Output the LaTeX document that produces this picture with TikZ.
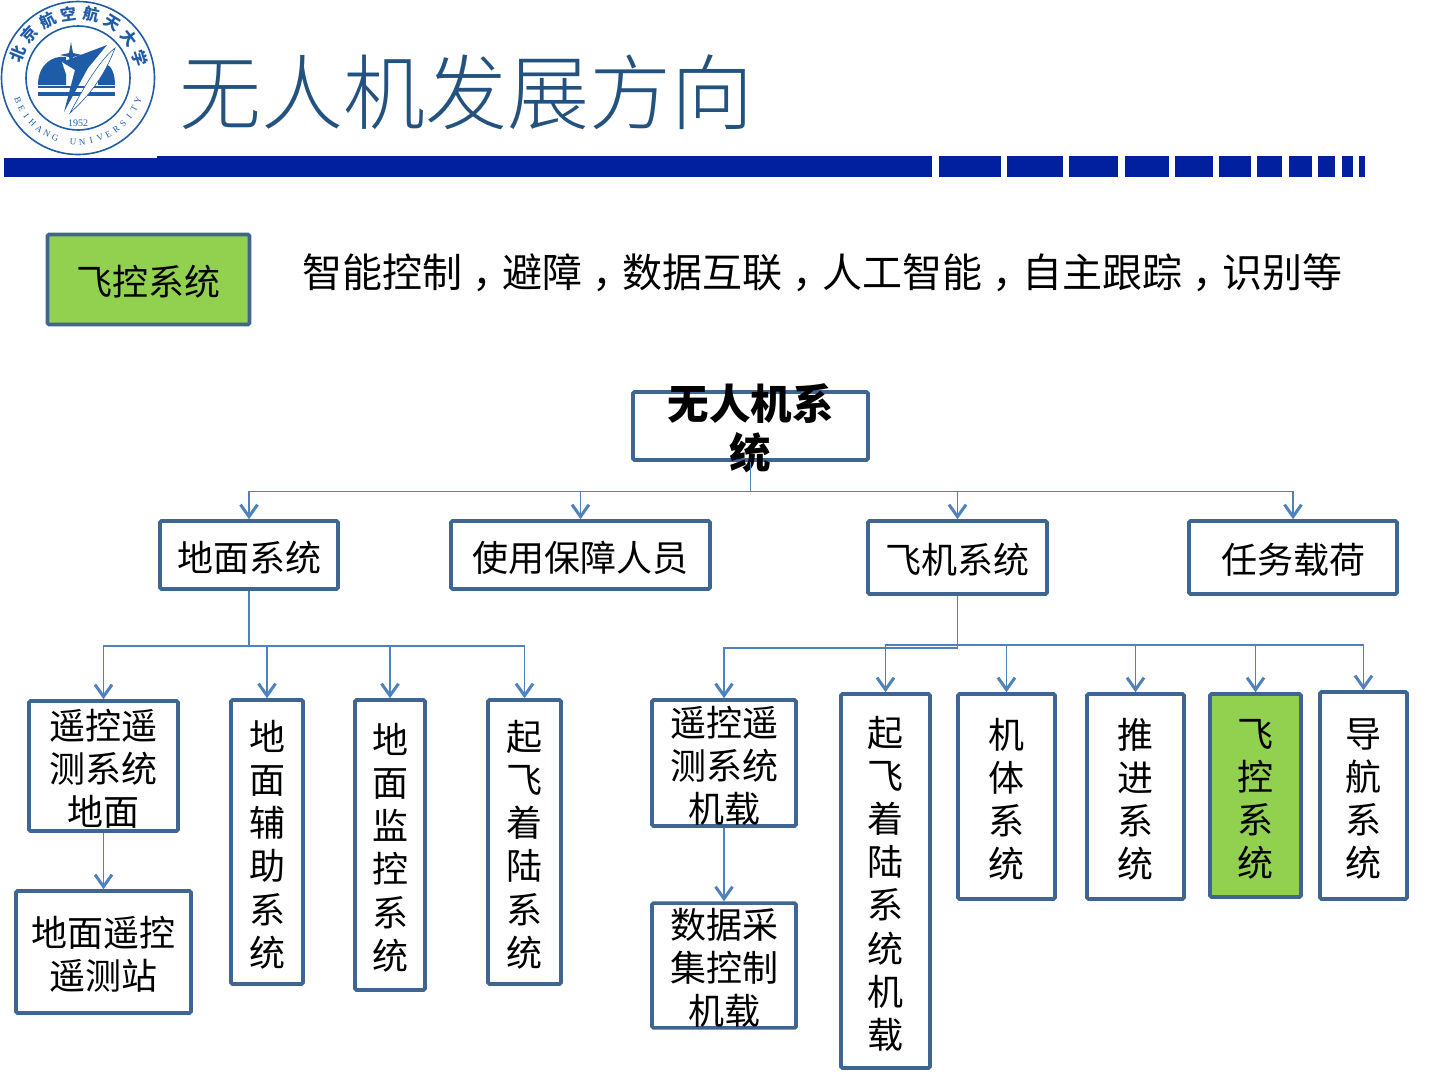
\documentclass[tikz,border=0pt]{standalone}
\usepackage{xcolor}
\usepackage{fontspec}
\setmainfont{Noto Sans CJK SC}
\newfontfamily\titlefont{Noto Sans CJK SC Light}
\newfontfamily\seriffont{Liberation Serif}
\usetikzlibrary{arrows.meta, positioning, calc}
\definecolor{bhblue}{HTML}{00209F}
\definecolor{logoblue}{HTML}{1F5CA8}
\definecolor{titleblue}{HTML}{23527F}
\definecolor{boxline}{HTML}{3F6592}
\definecolor{arline}{HTML}{4F81BD}
\definecolor{flightgreen}{HTML}{92D050}
\newcommand{\zhcomma}{\hspace*{.26em}，\hspace*{-.26em}}
\newcommand{\topline}{\rule{0pt}{35.5pt}}
\tikzset{
  boxsize/.style 2 args={minimum width=#1pt, minimum height=#2pt},
  sysbox/.style={rectangle, draw=boxline, line width=3.6pt, rounded corners=1.5pt,
    align=center, inner sep=0pt, font=\fontsize{36}{43.2}\selectfont},
  greenbox/.style={sysbox, fill=flightgreen},
  ar/.style={-{Straight Barb[length=12pt, width=17pt, line width=3pt]}, arline, line width=1.4pt},
  trunk/.style={arline, line width=1.6pt},
}
\begin{document}
\begin{tikzpicture}[x=1pt, y=-1pt]
  \useasboundingbox (0,0) rectangle (1440,1080);

  % header
  \node[font=\fontsize{82}{90}\titlefont, text=titleblue, anchor=west, inner sep=0pt] (title) at (179,92) {无人机发展方向};
  \fill[bhblue] (4,158) rectangle (157,177);
  \foreach \xa/\xb in {157/932,939/1001,1007/1063,1069/1118,1125/1169,1175/1213,1219/1251,1257/1282,1289/1312,1318/1335,1342/1353,1359/1365}
    \fill[bhblue] (\xa,156) rectangle (\xb,177);

  % logo
  \draw[logoblue, line width=1.6pt] (78,78) circle (76.5);
  \draw[logoblue, line width=1.6pt] (78,78) circle (52);
  \foreach \ch/\ang in {北/-158,京/-138,航/-118,空/-98,航/-78,天/-58,大/-38,学/-18}
    \node[logoblue, font=\fontsize{16}{16}\bfseries\selectfont, rotate=-\ang-90, inner sep=0pt] at ($(78,78)+(\ang:65)$) {\ch};
  \foreach \ch [count=\n from 0] in {B,E,I,H,A,N,G,{},U,N,I,V,E,R,S,I,T,Y}
    \node[logoblue, font=\fontsize{9}{9}\seriffont, rotate=90-160+\n*8.2, inner sep=0pt] at ($(78,78)+(160-\n*8.2:64)$) {\ch};
  \node[logoblue, font=\fontsize{10}{10}\seriffont, inner sep=0pt] (logoyear) at (78,123) {1952};
  \fill[logoblue] (38,85) .. controls (38,65) and (52,55) .. (66,57) -- (66,85) -- cycle;
  \fill[logoblue] (98,85) .. controls (98,70) and (102,63) .. (106,64) .. controls (112,66) and (115,75) .. (115,85) -- cycle;
  \fill[logoblue] (38,86) rectangle (115,88);
  \fill[logoblue] (38,92) rectangle (115,96);
  \fill[logoblue] (71,42) -- (73,53) -- (82,55) -- (73,57) -- (71,66) -- (69,57) -- (60,55) -- (69,53) -- cycle;
  \fill[white] (62,62) -- (80,58) -- (76,76) -- (66,74) -- cycle;
  \fill[logoblue] (107,45) -- (62,62) -- (75,70) -- (64,112) -- (88,68) -- cycle;
  \draw[logoblue, fill=white, line width=.6pt] (115,48) .. controls (100,60) and (85,85) .. (70,113) .. controls (90,95) and (105,75) .. (115,48) -- cycle;

  % summary row
  \node[greenbox, boxsize={202}{90}] (fcs) at (148.5,279.5) {\topline 飞控系统};
  \node[font=\fontsize{40}{48}\selectfont, inner sep=0pt, anchor=west] (fcstext) at (302,272.5)
    {智能控制\zhcomma 避障\zhcomma 数据互联\zhcomma 人工智能\zhcomma 自主跟踪\zhcomma 识别等};

  % tree
  \node[sysbox, boxsize={235}{68}] (uav) at (750.5,426) {};
  \node[align=center, inner sep=0pt, font=\fontsize{41.5}{49}\bfseries\selectfont] (uavtext) at (750.5,428.5) {无人机系\\统};
  \node[sysbox, boxsize={178}{68}] (ground) at (249,555) {\topline 地面系统};
  \node[sysbox, boxsize={259}{68}] (staff) at (580.5,555) {\topline 使用保障人员};
  \node[sysbox, boxsize={179}{73}] (aircraft) at (957.5,557.5) {\topline 飞机系统};
  \node[sysbox, boxsize={208}{73}] (payload) at (1293,557.5) {\topline 任务载荷};

  \node[sysbox, boxsize={149}{130}] (gtt) at (103.5,766) {\topline 遥控遥\\测系统\\地面};
  \node[sysbox, boxsize={175}{122}] (gstation) at (103.5,952) {\topline 地面遥控\\遥测站};
  \node[sysbox, boxsize={72}{284}] (gaux) at (267,842) {\topline 地\\面\\辅\\助\\系\\统};
  \node[sysbox, boxsize={70}{290}] (gmon) at (390,845) {\topline 地\\面\\监\\控\\系\\统};
  \node[sysbox, boxsize={73}{284}] (gland) at (524.5,842) {\topline 起\\飞\\着\\陆\\系\\统};
  \node[sysbox, boxsize={144}{126}] (att) at (724,763) {\topline 遥控遥\\测系统\\机载};
  \node[sysbox, boxsize={144}{123}] (adata) at (724,965.5) {\topline 数据采\\集控制\\机载};
  \node[sysbox, boxsize={89}{374}] (aland) at (885.5,881) {\topline 起\\飞\\着\\陆\\系\\统\\机\\载};
  \node[sysbox, boxsize={97}{205}] (body) at (1006.5,796.5) {\topline 机\\体\\系\\统};
  \node[sysbox, boxsize={97}{205}] (prop) at (1135.5,796.5) {\topline 推\\进\\系\\统};
  \node[greenbox, boxsize={91}{203}] (fctrl) at (1255.5,795.5) {\topline 飞\\控\\系\\统};
  \node[sysbox, boxsize={87}{207}] (nav) at (1363.5,795.5) {\topline 导\\航\\系\\统};

  \draw[trunk] (uav.south) -- ++(0,30);
  \foreach \kid in {ground,staff,aircraft,payload}
    \draw[ar, line width=1.1pt] (uav.south) ++(0,30) -| (\kid.north);
  \draw[trunk] (ground.south) -- ++(0,55);
  \foreach \kid in {gtt,gaux,gmon,gland}
    \draw[ar] (ground.south) ++(0,55) -| (\kid.north);
  \draw[trunk] (aircraft.south) -- ++(0,52);
  \draw[ar] (aircraft.south) ++(0,52) -| (att.north);
  \foreach \kid in {aland,body,prop,fctrl,nav}
    \draw[ar] (aircraft.south) ++(0,49) -| (\kid.north);
  \draw[ar] (gtt) -- (gstation);
  \draw[ar] (att) -- (adata);
\end{tikzpicture}
\end{document}
